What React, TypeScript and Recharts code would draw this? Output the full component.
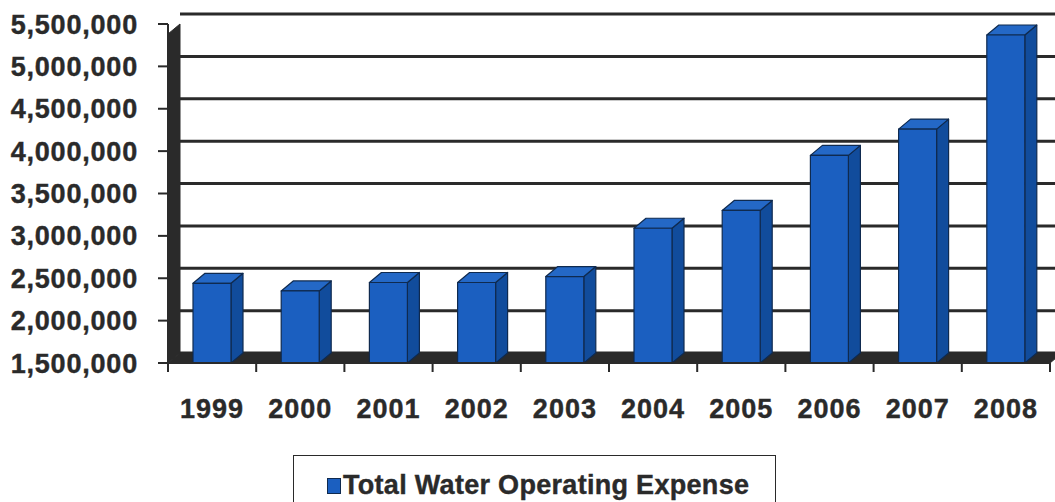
import { Bar, BarChart, CartesianGrid, ReferenceArea, XAxis, YAxis } from 'recharts'

const years = ['1999', '2000', '2001', '2002', '2003', '2004', '2005', '2006', '2007', '2008']
const expense = [2440000, 2350000, 2450000, 2450000, 2520000, 3090000, 3300000, 3950000, 4260000, 5370000]
const yTicks = [1500000, 2000000, 2500000, 3000000, 3500000, 4000000, 4500000, 5000000, 5500000]
const seriesName = 'Total Water Operating Expense'

const data = years.map((year, i) => ({ year, expense: expense[i] }))

// depth of the fake 3D effect
const DX = 12
const DY = -10
const ink = '#2a2a2a'
const blueFront = '#1b5fc0'
const blueSide = '#114c9c'
const blueTop = '#2468c6'
const outline = '#0f2a4f'

function Bar3D(props: any) {
  const { x, y, width, height } = props
  if (height <= 0) return null
  return (
    <g stroke={outline} strokeWidth={1.2} strokeLinejoin="round">
      <polygon
        points={`${x + width},${y} ${x + width + DX},${y + DY} ${x + width + DX},${y + height + DY} ${x + width},${y + height}`}
        fill={blueSide}
      />
      <polygon
        points={`${x},${y} ${x + DX},${y + DY} ${x + width + DX},${y + DY} ${x + width},${y}`}
        fill={blueTop}
      />
      <rect x={x} y={y} width={width} height={height} fill={blueFront} />
    </g>
  )
}

function Walls(props: any) {
  const { x, y, width, height } = props
  const bottom = y + height
  return (
    <g fill={ink} stroke={ink} strokeWidth={1}>
      {/* left side wall */}
      <polygon points={`${x},${y - DY} ${x + DX},${y} ${x + DX},${bottom + DY} ${x},${bottom}`} />
      {/* floor */}
      <polygon points={`${x},${bottom} ${x + DX},${bottom + DY} ${x + width + DX},${bottom + DY} ${x + width},${bottom}`} />
    </g>
  )
}

function gridLine(props: any) {
  const { x1, x2, y1, key } = props
  return <line key={key} x1={x1 + DX} x2={x2 + DX} y1={y1 + DY} y2={y1 + DY} stroke={ink} strokeWidth={3} />
}

function YearTick(props: any) {
  const { x, y, payload, index } = props
  const half = payload?.offset ?? 44
  return (
    <g>
      <line x1={x - half} x2={x - half} y1={y} y2={y + 9} stroke={ink} strokeWidth={2} />
      {index === years.length - 1 && (
        <line x1={x + half} x2={x + half} y1={y} y2={y + 9} stroke={ink} strokeWidth={2} />
      )}
      <text
        x={x}
        y={y + 55}
        textAnchor="middle"
        fontSize={27}
        fontWeight="bold"
        fill={ink}
        stroke={ink}
        strokeWidth={0.4}
        letterSpacing={1}
      >
        {payload.value}
      </text>
    </g>
  )
}

export default function App() {
  return (
    <div
      style={{
        position: 'absolute',
        left: 0,
        top: 0,
        width: 1055,
        height: 502,
        background: '#fff',
        fontFamily: '"Liberation Sans", Arial, sans-serif',
        overflow: 'hidden',
      }}
    >
      <BarChart
        width={1055}
        height={502}
        data={data}
        margin={{ top: 24, right: 5, bottom: 0, left: 0 }}
        barSize={38}
      >
        <ReferenceArea y1={1500000} y2={5500000} shape={Walls} ifOverflow="visible" />
        <CartesianGrid vertical={false} horizontal={gridLine} />
        <XAxis
          dataKey="year"
          height={139}
          tickLine={false}
          tickSize={0}
          tickMargin={0}
          interval={0}
          axisLine={{ stroke: ink, strokeWidth: 2 }}
          tick={YearTick}
        />
        <YAxis
          domain={[1500000, 5500000]}
          ticks={yTicks}
          width={168}
          interval={0}
          tickSize={10}
          tickMargin={20}
          tickLine={{ stroke: ink, strokeWidth: 2 }}
          axisLine={{ stroke: ink, strokeWidth: 2 }}
          tickFormatter={(v: number) => v.toLocaleString('en-US')}
          tick={{ fontSize: 27, fontWeight: 'bold', fill: ink, stroke: ink, strokeWidth: 0.4, letterSpacing: 0.8 }}
        />
        <Bar dataKey="expense" name={seriesName} shape={Bar3D} isAnimationActive={false} />
      </BarChart>
      <div
        style={{
          position: 'absolute',
          left: 293,
          top: 455,
          width: 483,
          height: 60,
          border: `1.5px solid ${ink}`,
          boxSizing: 'border-box',
          display: 'flex',
          alignItems: 'flex-start',
          paddingLeft: 33,
          paddingTop: 16,
        }}
      >
        <span
          style={{
            display: 'inline-block',
            width: 12,
            height: 14,
            background: blueFront,
            border: `1px solid ${outline}`,
            marginTop: 6,
            marginRight: 2,
          }}
        />
        <span
          style={{
            fontSize: 27,
            fontWeight: 'bold',
            color: ink,
            lineHeight: '27px',
            letterSpacing: 0.3,
            WebkitTextStroke: `0.4px ${ink}`,
          }}
        >
          {seriesName}
        </span>
      </div>
    </div>
  )
}
